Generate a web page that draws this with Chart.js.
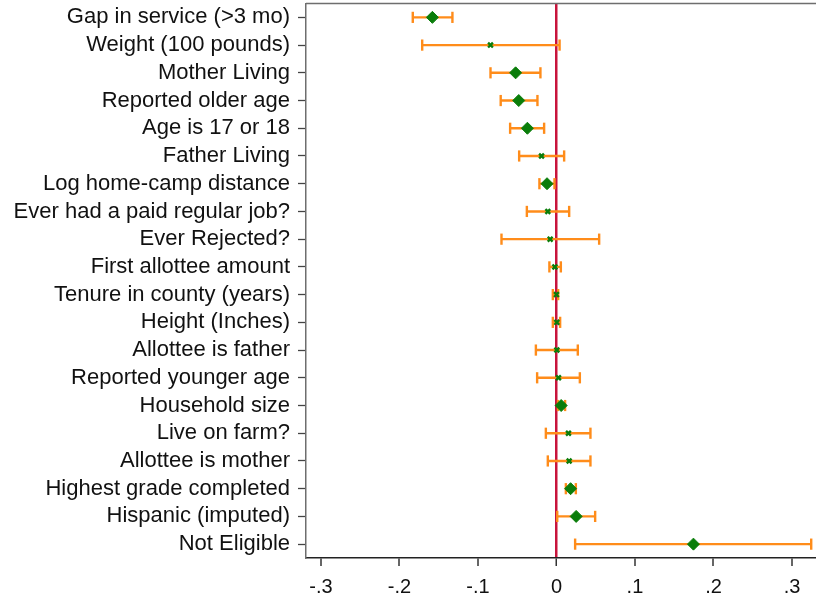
<!DOCTYPE html>
<html>
<head>
<meta charset="utf-8">
<script src="https://cdn.jsdelivr.net/npm/chart.js@4.4.1/dist/chart.umd.min.js"></script>
<style>
  html, body { margin: 0; padding: 0; background: #fff; }
  canvas { display: block; }
</style>
</head>
<body>
<canvas id="coefplot" width="816" height="599"></canvas>
<script>
const labels = [
    "Gap in service (>3 mo)",
    "Weight (100 pounds)",
    "Mother Living",
    "Reported older age",
    "Age is 17 or 18",
    "Father Living",
    "Log home-camp distance",
    "Ever had a paid regular job?",
    "Ever Rejected?",
    "First allottee amount",
    "Tenure in county (years)",
    "Height (Inches)",
    "Allottee is father",
    "Reported younger age",
    "Household size",
    "Live on farm?",
    "Allottee is mother",
    "Highest grade completed",
    "Hispanic (imputed)",
    "Not Eligible"
];
const coef = [
    -0.158, -0.084, -0.052, -0.048, -0.037, -0.019, -0.012, -0.011, -0.008, -0.002,
    0.000, 0.0005, 0.0005, 0.0026, 0.006, 0.0153, 0.0162, 0.018, 0.0251, 0.1745
];
const ciLow = [
    -0.183, -0.171, -0.084, -0.071, -0.059, -0.0475, -0.0217, -0.0377, -0.070, -0.009,
    -0.0046, -0.0046, -0.0262, -0.0246, 0.002, -0.0135, -0.011, 0.012, 0.001, 0.0238
];
const ciHigh = [
    -0.1325, 0.004, -0.0204, -0.0242, -0.0157, 0.0098, -0.0025, 0.0162, 0.0544, 0.0056,
    0.0022, 0.0047, 0.0272, 0.0298, 0.011, 0.0433, 0.0433, 0.0247, 0.0493, 0.3245
];
const xTicks = [-0.3, -0.2, -0.1, 0, 0.1, 0.2, 0.3];
const xTickLabels = ["-.3", "-.2", "-.1", "0", ".1", ".2", ".3"];

const orange = "#ff8c1a";
const green = "#0a7d0a";
const zeroLine = "#c8143c";
const fontFamily = "'Liberation Sans', Arial, sans-serif";

// filled diamond when the interval excludes zero, small x otherwise
const significant = labels.map((l, i) => ciLow[i] > 0 || ciHigh[i] < 0);

const points = {
    data: labels.map((l, i) => ({ x: coef[i], y: l })),
    pointStyle: significant.map(s => (s ? "rectRot" : "crossRot")),
    pointRadius: significant.map(s => (s ? 6 : 3.4)),
    backgroundColor: green,
    borderColor: green,
    pointBorderWidth: significant.map(s => (s ? 1 : 2.4)),
    showLine: false
};

const bars = labels.map((l, i) => ({
    data: [
        { x: ciLow[i], y: l },
        { x: ciHigh[i], y: l }
    ],
    showLine: true,
    borderColor: orange,
    borderWidth: 2.4,
    pointStyle: "line",
    rotation: 90,
    pointRadius: 5.6,
    pointBorderColor: orange,
    pointBorderWidth: 2.4
}));

// top edge of the plot frame
const frameTop = {
    id: "frameTop",
    beforeDatasetsDraw(chart) {
        const a = chart.chartArea;
        const ctx = chart.ctx;
        ctx.save();
        ctx.strokeStyle = "#6e6e6e";
        ctx.lineWidth = 1.5;
        ctx.beginPath();
        ctx.moveTo(a.left, a.top);
        ctx.lineTo(a.right, a.top);
        ctx.stroke();
        ctx.restore();
    }
};

new Chart(document.getElementById("coefplot"), {
    type: "scatter",
    data: { datasets: [points].concat(bars) },
    options: {
        responsive: false,
        animation: false,
        devicePixelRatio: 1,
        layout: {
            autoPadding: false,
            padding: { top: 3.5, right: 0, left: 0, bottom: 0 }
        },
        plugins: {
            legend: { display: false },
            tooltip: { enabled: false }
        },
        scales: {
            x: {
                type: "linear",
                min: -0.319,
                max: 0.3306,
                afterBuildTicks: scale => {
                    scale.ticks = xTicks.map(v => ({ value: v }));
                },
                afterFit: scale => {
                    scale.height = 41;
                    scale.paddingLeft = 0;
                    scale.paddingRight = 0;
                },
                ticks: {
                    font: { family: fontFamily, size: 20 },
                    color: "#111",
                    padding: 9,
                    maxRotation: 0,
                    callback: (v, i) => xTickLabels[i]
                },
                grid: {
                    drawOnChartArea: true,
                    color: c => (c.tick && c.tick.value === 0 ? zeroLine : "rgba(0,0,0,0)"),
                    lineWidth: c => (c.tick && c.tick.value === 0 ? 2.5 : 0),
                    tickColor: "#333",
                    tickWidth: 1.5,
                    tickLength: 8
                },
                border: { display: true, color: "#222", width: 1.5 }
            },
            y: {
                type: "category",
                labels: labels,
                offset: true,
                afterFit: scale => {
                    scale.width = 306;
                    scale.paddingTop = 0;
                    scale.paddingBottom = 0;
                },
                ticks: {
                    font: { family: fontFamily, size: 22 },
                    color: "#111",
                    padding: 8,
                    autoSkip: false
                },
                grid: {
                    offset: false,
                    drawOnChartArea: false,
                    tickColor: "#444",
                    tickWidth: 1.3,
                    tickLength: 8
                },
                border: { display: true, color: "#6e6e6e", width: 1.5 }
            }
        }
    },
    plugins: [frameTop]
});
</script>
</body>
</html>
